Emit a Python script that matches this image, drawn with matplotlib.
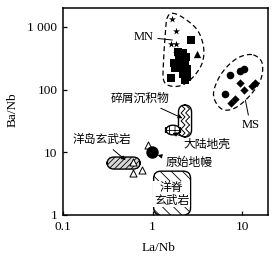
import numpy as np
import matplotlib
matplotlib.use("Agg")
import matplotlib.pyplot as plt
from matplotlib.patches import FancyBboxPatch, Polygon

plt.rcParams['font.family'] = ['Liberation Serif', 'Noto Sans CJK SC']
plt.rcParams['hatch.linewidth'] = 0.6

# --- data ---
mn_star_x = [1.66, 1.84, 1.59, 1.85, 1.85]
mn_star_y = [1340, 870, 527, 527, 390]
mn_sq_x = [2.71, 1.62, 1.95, 2.2, 2.35, 2.0, 1.75, 2.0, 2.3, 1.8, 2.1, 2.4, 2.2, 2.45, 2.3]
mn_sq_y = [617, 151, 400, 390, 330, 320, 270, 260, 270, 220, 225, 215, 180, 160, 140]
mn_tri_x = [3.16]
mn_tri_y = [365]

ms_circ_x = [7.4, 9.45, 10.5, 6.4]
ms_circ_y = [171, 200, 213, 85]
ms_dia_x = [9.45, 10.5, 13.0, 14.1, 7.6, 8.4]
ms_dia_y = [126, 98, 112, 126, 62, 72]

open_tri_x = [0.61, 0.61, 0.77, 0.88]
open_tri_y = [7.0, 4.7, 5.2, 13.1]

pm_x, pm_y = 0.98, 10.1  # primitive mantle

# fields: (x0, x1, y0, y1)
oib_box = (0.31, 0.73, 5.4, 8.4)
crust_box = (1.40, 2.05, 19, 27)
sed_box = (1.95, 2.73, 17.5, 57)
morb_box = (1.03, 2.66, 1.0, 5.0)

mn_env_x = [1.66, 2.22, 3.16, 3.71, 3.59, 2.87, 2.15, 1.59, 1.33, 1.33, 1.40, 1.46]
mn_env_y = [1650, 1390, 893, 483, 266, 161, 118, 114, 142, 297, 893, 1390]
ms_env_x = [13.4, 16.8, 16.1, 12.4, 8.8, 6.5, 5.3, 4.8, 5.5, 7.1, 9.6]
ms_env_y = [357, 263, 142, 82, 53, 47, 57, 87, 153, 247, 335]

fig = plt.figure(figsize=(2.77, 2.58), dpi=100)
ax = fig.add_axes([0.2274, 0.1667, 0.7401, 0.8023])
ax.set_xscale('log')
ax.set_yscale('log')
ax.set_xlim(0.1, 19.5)
ax.set_ylim(1, 2000)

to_axes = ax.transData + ax.transAxes.inverted()


def smooth_closed(xs, ys, n=12):
    # Catmull-Rom through the envelope points, in log space
    p = np.log10(np.column_stack([xs, ys]))
    m = len(p)
    out = []
    for i in range(m):
        p0, p1, p2, p3 = p[i - 1], p[i], p[(i + 1) % m], p[(i + 2) % m]
        for t in np.linspace(0, 1, n, endpoint=False):
            t2, t3 = t * t, t * t * t
            out.append(0.5 * (2 * p1 + (-p0 + p2) * t + (2 * p0 - 5 * p1 + 4 * p2 - p3) * t2
                              + (-p0 + 3 * p1 - 3 * p2 + p3) * t3))
    out = np.array(out)
    return 10 ** out[:, 0], 10 ** out[:, 1]


def field(box, fc='white', hatch=None, z=2, pad=0.012):
    x0, x1, y0, y1 = box
    (ax0, ay0), (ax1, ay1) = to_axes.transform([(x0, y0), (x1, y1)])
    p = FancyBboxPatch((ax0 + pad, ay0 + pad), ax1 - ax0 - 2 * pad, ay1 - ay0 - 2 * pad,
                       boxstyle=f"round,pad={pad},rounding_size=0.035",
                       transform=ax.transAxes, fc=fc, ec='black', lw=1.0,
                       hatch=hatch, zorder=z)
    ax.add_patch(p)
    return p


# envelopes
for ex, ey in [(mn_env_x, mn_env_y), (ms_env_x, ms_env_y)]:
    sx, sy = smooth_closed(ex, ey)
    ax.add_patch(Polygon(np.column_stack([sx, sy]), closed=True, fill=False,
                         ls=(0, (4, 2.5)), lw=0.9, ec='black', zorder=2))

# fields
field(oib_box, fc='#d8d8d8', hatch='//////', z=3)
sed = field(sed_box, fc='white', z=3)
x0, x1, y0, y1 = sed_box
(sx0, sy0), (sx1, sy1) = to_axes.transform([(x0, y0), (x1, y1)])
zy = np.linspace(sy0, sy1, 9)
for frac in (0.35, 0.7):
    zx = sx0 + (sx1 - sx0) * (frac + np.where(np.arange(9) % 2 == 0, -0.15, 0.15))
    ln, = ax.plot(zx, zy, color='black', lw=0.7, transform=ax.transAxes, zorder=3.5)
    ln.set_clip_path(sed)
field(crust_box, fc='white', hatch='+++', z=4)
morb = field(morb_box, fc='white', hatch='\\\\\\', z=3)

# points
ax.scatter(mn_star_x, mn_star_y, marker='*', s=28, c='black', zorder=5, lw=0)
ax.scatter(mn_sq_x, mn_sq_y, marker='s', s=26, c='black', zorder=5, lw=0)
ax.scatter(mn_tri_x, mn_tri_y, marker='^', s=28, c='black', zorder=5, lw=0)
ax.scatter(ms_circ_x, ms_circ_y, marker='o', s=30, c='black', zorder=5, lw=0)
ax.scatter(ms_dia_x, ms_dia_y, marker='D', s=18, c='black', zorder=5, lw=0)
ax.scatter(open_tri_x, open_tri_y, marker='^', s=26, facecolors='white',
           edgecolors='black', lw=0.7, zorder=5)
ax.scatter([pm_x], [pm_y], marker='o', s=80, c='black', zorder=5, lw=0)

# labels
arr = dict(arrowstyle='-|>', lw=0.7, color='black', mutation_scale=6, shrinkA=1, shrinkB=0)
fs = 8.5
ax.annotate('碎屑沉积物', xy=(2.16, 35), xytext=(0.73, 71), fontsize=fs,
            ha='center', va='center', arrowprops=arr, zorder=6)
ax.annotate('大陆地壳', xy=(1.67, 20.3), xytext=(2.22, 13.1), fontsize=fs,
            ha='left', va='center', arrowprops=arr, zorder=6)
ax.annotate('原始地幔', xy=(1.14, 9.0), xytext=(1.40, 6.7), fontsize=fs,
            ha='left', va='center', arrowprops=arr, zorder=6)
ax.annotate('洋岛玄武岩', xy=(0.50, 7.5), xytext=(0.27, 15.7), fontsize=fs,
            ha='center', va='center', arrowprops=arr, zorder=6)
ax.annotate('MN', xy=(1.67, 617), xytext=(1.03, 690), fontsize=9,
            ha='right', va='center', zorder=6,
            arrowprops=dict(arrowstyle='-', lw=0.7, color='black', shrinkA=1, shrinkB=0))
ax.annotate('MS', xy=(10.9, 68), xytext=(12.4, 27), fontsize=9,
            ha='center', va='center', zorder=6,
            arrowprops=dict(arrowstyle='-', lw=0.7, color='black', shrinkA=1, shrinkB=0))
ax.text(1.63, 2.15, '洋脊\n玄武岩', fontsize=fs, ha='center', va='center',
        linespacing=1.1, zorder=6,
        bbox=dict(fc='white', ec='none', pad=0.5))

# axes
ax.set_yticks([1, 10, 100, 1000])
ax.set_yticklabels(['1', '10', '100', '1 000'])
ax.set_xticks([0.1, 1, 10])
ax.set_xticklabels(['0.1', '1', '10'])
ax.minorticks_off()
ax.tick_params(direction='in', length=3, width=0.9, labelsize=9.5, pad=4)
for s in ax.spines.values():
    s.set_linewidth(1.1)
ax.set_xlabel('La/Nb', fontsize=9.5)
ax.set_ylabel('Ba/Nb', fontsize=9.5)
ax.xaxis.set_label_coords(0.468, -0.13)
ax.yaxis.set_label_coords(-0.215, 0.507)

fig.savefig('out.png', dpi=100)
